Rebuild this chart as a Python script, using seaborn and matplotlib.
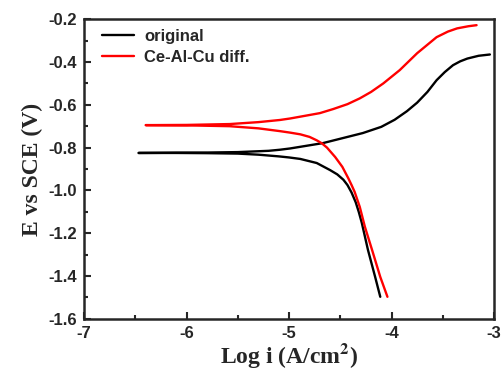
import numpy as np
import pandas as pd
import matplotlib
matplotlib.use('Agg')
import matplotlib.pyplot as plt
import seaborn as sns
from matplotlib.ticker import MultipleLocator

# original sample: cathodic branch (bottom -> Ecorr), then anodic branch (Ecorr -> top)
orig_cath_logi = [-4.11, -4.16, -4.23, -4.29, -4.32, -4.35, -4.39, -4.43, -4.47, -4.53, -4.60, -4.73, -4.89, -5.0, -5.1, -5.3, -5.5, -5.8, -6.1, -6.47]
orig_cath_E = [-1.497, -1.404, -1.278, -1.152, -1.10, -1.055, -1.010, -0.975, -0.950, -0.925, -0.905, -0.872, -0.853, -0.846, -0.841, -0.833, -0.828, -0.826, -0.825, -0.825]
orig_anod_logi = [-6.47, -6.1, -5.8, -5.5, -5.2, -5.09, -4.99, -4.67, -4.28, -4.10, -3.97, -3.85, -3.75, -3.65, -3.56, -3.48, -3.40, -3.33, -3.26, -3.15, -3.04]
orig_anod_E = [-0.825, -0.824, -0.823, -0.821, -0.815, -0.810, -0.804, -0.779, -0.732, -0.703, -0.670, -0.630, -0.590, -0.540, -0.485, -0.447, -0.415, -0.397, -0.384, -0.371, -0.365]

# Ce-Al-Cu diffused sample
ceal_cath_logi = [-4.04, -4.11, -4.19, -4.26, -4.31, -4.36, -4.39, -4.42, -4.48, -4.55, -4.63, -4.68, -4.73, -4.80, -4.89, -4.99, -5.09, -5.3, -5.58, -5.9, -6.40]
ceal_cath_E = [-1.497, -1.404, -1.278, -1.170, -1.077, -1.007, -0.975, -0.945, -0.890, -0.844, -0.800, -0.780, -0.766, -0.750, -0.738, -0.730, -0.723, -0.710, -0.700, -0.697, -0.695]
ceal_anod_logi = [-6.40, -6.0, -5.58, -5.3, -5.09, -4.99, -4.70, -4.57, -4.43, -4.31, -4.20, -4.08, -3.92, -3.75, -3.56, -3.45, -3.36, -3.25, -3.17]
ceal_anod_E = [-0.695, -0.694, -0.690, -0.681, -0.671, -0.664, -0.639, -0.620, -0.597, -0.570, -0.540, -0.500, -0.438, -0.359, -0.284, -0.258, -0.243, -0.233, -0.228]

labels = ['original', 'Ce-Al-Cu diff.']
colors = ['black', 'red']

frames = []
for lab, li, e in [(labels[0], orig_cath_logi + orig_anod_logi, orig_cath_E + orig_anod_E),
                   (labels[1], ceal_cath_logi + ceal_anod_logi, ceal_cath_E + ceal_anod_E)]:
    frames.append(pd.DataFrame({'logi': li, 'E': e, 'sample': lab}))
df = pd.concat(frames, ignore_index=True)

sns.set_style('ticks')
plt.rcParams['font.family'] = ['Liberation Sans', 'DejaVu Sans']
plt.rcParams['font.weight'] = 'bold'
plt.rcParams['mathtext.fontset'] = 'stix'

fig = plt.figure(figsize=(5.01, 3.76), dpi=100)
ax = fig.add_axes([0.168, 0.152, 0.818, 0.797])

sns.lineplot(data=df, x='logi', y='E', hue='sample', palette=colors, sort=False,
             estimator=None, linewidth=1.7, ax=ax)

ax.set_xlim(-7, -3)
ax.set_ylim(-1.6, -0.2)
ax.xaxis.set_minor_locator(MultipleLocator(0.5))
ax.yaxis.set_minor_locator(MultipleLocator(0.1))
yt = np.round(np.arange(-1.6, -0.19, 0.2), 1)
ax.set_yticks(yt)
ax.set_yticklabels([f'{v:.1f}' for v in yt])
ax.set_xticks([-7, -6, -5, -4, -3])
ax.set_xticklabels(['-7', '-6', '-5', '-4', '-3'])

ax.tick_params(which='both', direction='in', width=1.5, labelsize=12)
ax.tick_params(which='major', length=5, pad=5)
ax.tick_params(which='minor', length=3)
for sp in ax.spines.values():
    sp.set_linewidth(1.8)
    sp.set_visible(True)
for t in ax.get_xticklabels() + ax.get_yticklabels():
    t.set_fontweight('bold')

ax.set_xlabel(r'Log i (A/cm$^{\mathbf{2}}$)', family='Liberation Serif', fontweight='bold', fontsize=17, labelpad=0)
ax.set_ylabel('E vs SCE (V)', family='Liberation Serif', fontweight='bold', fontsize=17, labelpad=4)

leg = ax.legend(loc='upper left', frameon=False, fontsize=12, handlelength=1.9,
                handletextpad=0.6, borderaxespad=0.2, labelspacing=0.35,
                bbox_to_anchor=(0.02, 1.0))
for t in leg.get_texts():
    t.set_fontweight('bold')

fig.savefig('out.png', dpi=100)
